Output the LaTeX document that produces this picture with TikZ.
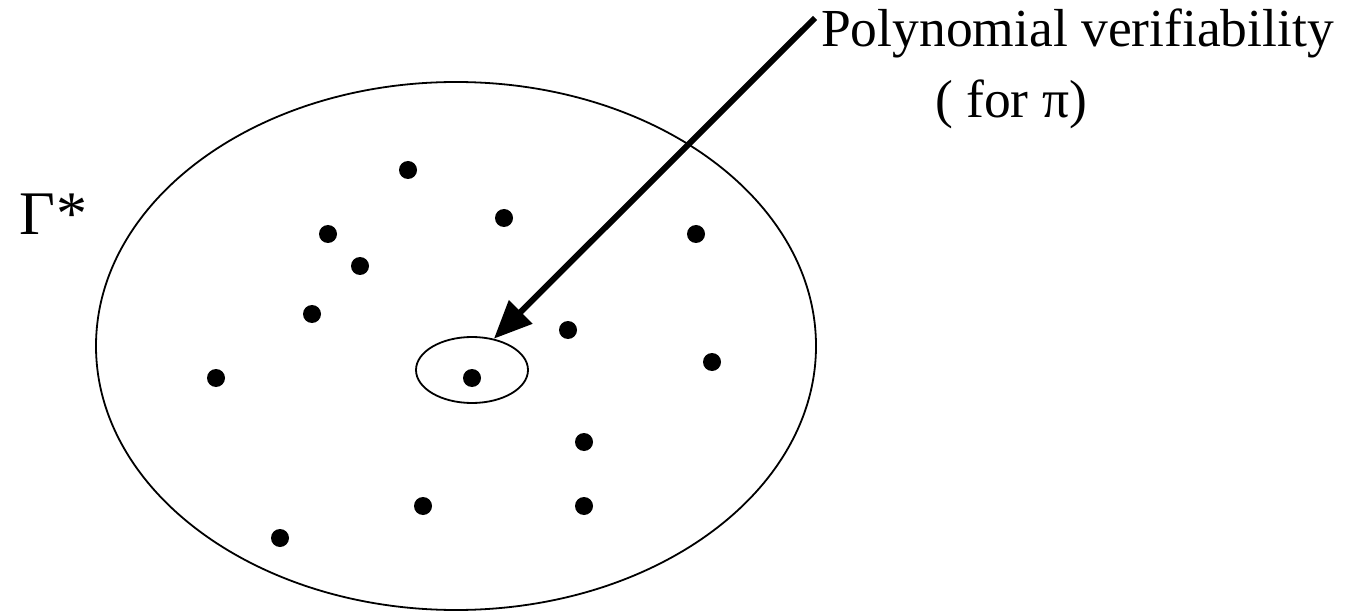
\documentclass[tikz,border=0pt]{standalone}
\usepackage{fontspec}
\setmainfont{Liberation Serif}
\usetikzlibrary{arrows.meta,shapes.geometric}
\begin{document}
\begin{tikzpicture}[x=1pt,y=-1pt,
  dot/.style={circle,fill=black,inner sep=0pt,minimum size=18pt},
  ring/.style={draw,ellipse,line width=1.8pt,inner sep=0pt},
  lbl/.style={anchor=base west,inner sep=0pt,font=\fontsize{53.5}{60}\selectfont},
  bigarrow/.style={line width=6pt,-{Triangle[length=38pt,width=32pt]}}]
\useasboundingbox (0,0) rectangle (1349,612);
\node[ring,minimum width=720pt,minimum height=528pt] (big) at (456,346) {};
\node[ring,minimum width=112pt,minimum height=66pt] (small) at (472,370) {};
\node[dot] (d1) at (408,170) {};
\node[dot] (d2) at (504,218) {};
\node[dot] (d3) at (328,234) {};
\node[dot] (d4) at (360,266) {};
\node[dot] (d5) at (696,234) {};
\node[dot] (d6) at (312,314) {};
\node[dot] (d7) at (568,330) {};
\node[dot] (d8) at (216,378) {};
\node[dot] (d9) at (472,378) {};
\node[dot] (d10) at (712,362) {};
\node[dot] (d11) at (584,442) {};
\node[dot] (d12) at (423,506) {};
\node[dot] (d13) at (584,506) {};
\node[dot] (d14) at (280,538) {};
\node[lbl,font=\fontsize{62}{70}\selectfont] (gamma) at (19,235) {Γ\kern1pt*};
\node[lbl] (poly) at (821,47) {Polynomial verifiability};
\node[lbl] (forpi) at (935,118) {( for π)};
\coordinate (tail) at (815,18);
\draw[bigarrow] (tail) -- (small.55);
\end{tikzpicture}
\end{document}
